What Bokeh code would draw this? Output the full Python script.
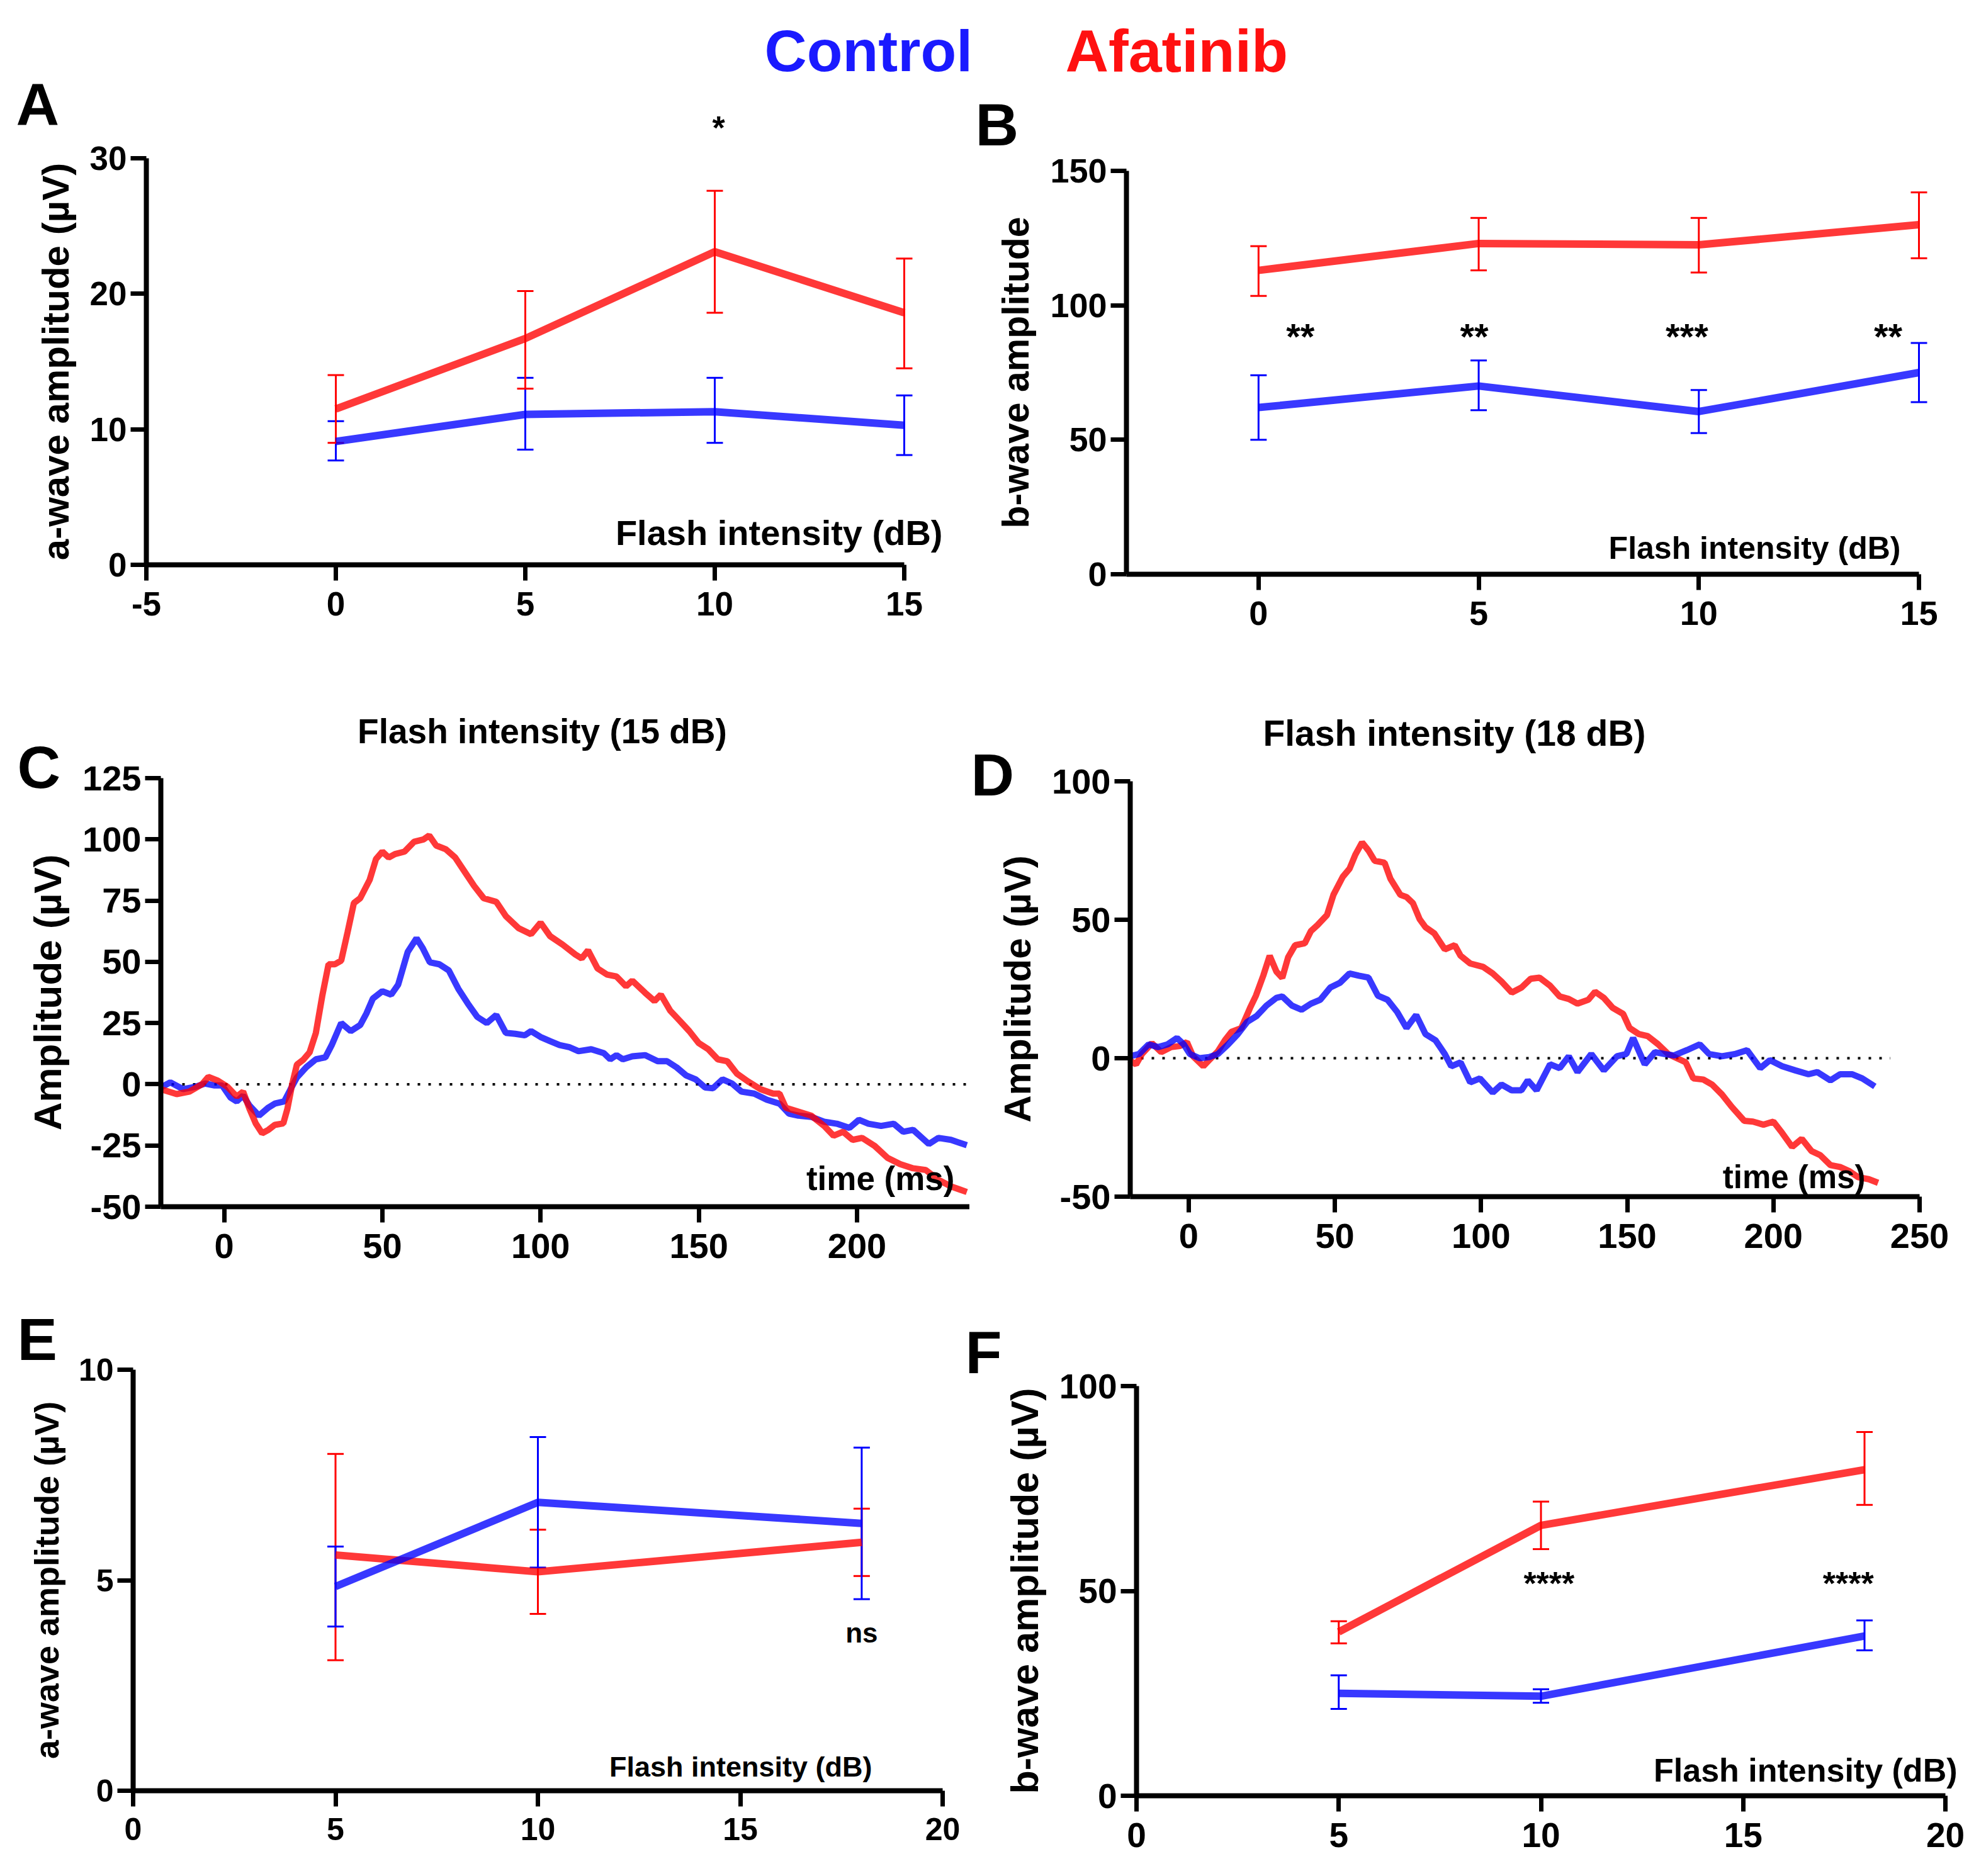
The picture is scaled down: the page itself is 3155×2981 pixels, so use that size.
from bokeh.plotting import figure
from bokeh.layouts import column, row
from bokeh.models import (Range1d, Label, FixedTicker, Whisker, TeeHead,
                          ColumnDataSource)
from bokeh.embed import file_html
from bokeh.resources import INLINE

# ---------------- data ----------------
# Panel A: a-wave amplitude (uV) vs flash intensity (dB)
a_x = [0, 5, 10, 15]
a_ctrl = [9.1, 11.1, 11.3, 10.3]
a_ctrl_lo = [7.7, 8.5, 9.0, 8.1]
a_ctrl_hi = [10.6, 13.8, 13.8, 12.5]
a_afat = [11.5, 16.7, 23.1, 18.6]
a_afat_lo = [9.0, 13.0, 18.6, 14.5]
a_afat_hi = [14.0, 20.2, 27.6, 22.6]
a_sig_x = [10.1]
a_sig = ["*"]

# Panel B: b-wave amplitude
b_x = [0, 5, 10, 15]
b_ctrl = [62.0, 70.0, 60.5, 75.0]
b_ctrl_lo = [50.0, 61.0, 52.5, 64.0]
b_ctrl_hi = [74.0, 79.5, 68.5, 86.0]
b_afat = [113.0, 123.0, 122.5, 130.0]
b_afat_lo = [103.5, 113.0, 112.2, 117.5]
b_afat_hi = [122.0, 132.5, 132.5, 142.0]
b_sig_x = [0.95, 4.9, 9.73, 14.3]
b_sig = ["**", "**", "***", "**"]

# Panel C: trace at 15 dB
c_t_afat = [-20, -15, -11, -7, -5, -2, 1, 4, 6, 8, 10, 12, 14, 16, 18.7, 20, 21.5, 23, 25, 27,
            29, 31, 33, 35, 37, 39, 41, 43, 46, 48, 50, 52, 54, 57, 60, 63, 64.8, 67, 70, 73,
            76, 79, 82, 86, 89, 93, 97, 100, 103, 107, 111, 113, 115, 118, 121, 124, 127, 129,
            133, 136, 138, 141, 144, 147, 150, 153, 156, 159, 162, 165.5, 169.5, 173.5, 175.5,
            177.5, 181.5, 185.5, 189.6, 192.6, 195.6, 198.6, 201.6, 205.6, 209.6, 213.6, 217.7,
            221.7, 225.7, 229.7, 234.7]
c_v_afat = [-2, -4, -3, 0, 3, 1.5, -1, -5, -3, -10, -16, -20, -18.6, -16.6, -16, -10, 0, 8, 10, 13,
            21, 36, 49, 49, 50.5, 62, 74, 76, 83.5, 92, 95, 92.6, 94, 95, 99, 100, 101.6, 97.5, 96,
            92.6, 86.8, 81, 76, 74.5, 68.7, 63.8, 61.3, 66, 60.5, 57, 53, 51.4, 54.7, 47.3, 44.8,
            44, 40, 42.3, 37.4, 34, 36.6, 30, 25.9, 21.7, 16.8, 14.3, 10.2, 9.4, 4.4, 1.2, -2,
            -3.8, -3.8, -9.6, -11.2, -12.8, -17, -21, -19.4, -22.7, -21.9, -25.2, -30, -32.6,
            -34.3, -35, -39, -41.7, -44]
c_t_ctrl = [-20, -17, -13, -9, -6, -3, -0.6, 2, 4, 6, 8, 11, 14, 16, 19, 21, 23, 26, 29, 32, 34,
            37, 40, 43, 45, 47, 50, 52.8, 55, 58, 60.8, 62.8, 65, 68, 71, 74, 77, 80, 83, 86, 89,
            92, 95, 97, 100, 103, 106, 109, 112, 116, 120, 122, 124, 126, 129, 133, 137, 140, 143,
            146, 149, 152, 154.5, 157.5, 160.5, 163.5, 167.5, 171.5, 175.5, 178.5, 181.5, 185.5,
            189.6, 193.6, 197.6, 200.6, 203.6, 207.6, 211.6, 214.6, 217.7, 222.7, 225.7, 229.7,
            234.7]
c_v_ctrl = [-1.3, 0.8, -2, -1, 0.3, -0.5, -0.5, -5.4, -7, -4.6, -8.7, -12.8, -9.5, -7.9, -7, -2,
            2.8, 7, 10.2, 11, 16, 25, 21.7, 24.2, 29, 35, 38, 36.6, 40.7, 54, 59.6, 55.5, 49.8, 49,
            46.5, 39, 33, 27.5, 25, 28.3, 21, 20.6, 20, 21.7, 19.3, 17.6, 16, 15.2, 13.5, 14.3,
            12.7, 10.2, 11.9, 10.2, 11.4, 11.9, 9.4, 9.4, 6.9, 3.6, 2, -1.3, -1.6, 2, 0.3, -3,
            -3.8, -6.3, -7.9, -12, -12.8, -13.3, -15.3, -16.1, -17.8, -14.5, -16.1, -17, -16.1,
            -19.4, -18.6, -24.4, -21.9, -22.7, -24.9]

# Panel D: trace at 18 dB
d_t_afat = [-20.3, -18, -16, -12.6, -9.4, -6, -3, -0.6, 1.5, 5, 7, 10, 12.4, 14.6, 18, 21, 23,
            25.5, 27.7, 30, 32, 34, 36.4, 39.7, 41.8, 44, 47.3, 49.5, 52.7, 55, 57, 59.3, 61.5,
            63.6, 67, 69, 72.4, 74.5, 76.7, 79, 81, 84, 87.6, 91, 93, 96.3, 100.7, 104, 107,
            110.5, 113.8, 117, 120, 123.6, 126.9, 130, 133, 136.7, 139, 142, 145, 148.6, 150.8,
            154, 157, 160.6, 164, 167, 170, 172.6, 176, 179, 182.4, 185.7, 190, 193, 196.6, 200,
            203, 206.4, 209.7, 213, 216, 219.5, 222.8, 226, 229, 232.6, 235.8]
d_v_afat = [-0.7, -2.2, 1.5, 5.4, 2.2, 4, 4.4, 5.8, 0.7, -2.9, -0.7, 2.5, 6.5, 9.5, 10.9, 18.2,
            22.6, 29.8, 37, 31.3, 29, 36.4, 40.8, 41.5, 45.9, 48, 51.7, 59, 65.5, 68.4, 73.5,
            77.9, 75, 71.3, 70.6, 64.8, 59, 58.2, 56, 50.2, 47.3, 45.1, 39.3, 40.8, 37, 34.2, 33,
            30.6, 27.7, 23.7, 25.5, 28.7, 29.1, 26.2, 22.3, 21.4, 19.7, 21.1, 24, 21.8, 18.2, 16,
            10.9, 8.7, 8, 5, 1.5, 0, -1.5, -7.3, -7.7, -9.5, -13.1, -17.5, -22.6, -22.9, -24,
            -22.9, -27, -32, -29.1, -33.5, -35, -38.6, -39.3, -40.8, -43, -43.7, -45]
d_t_ctrl = [-20, -17, -13.7, -10.5, -7.2, -4, -1.7, 0.4, 3.7, 7, 10, 13.5, 16.8, 20, 23.3, 26.6,
            30, 32, 35.3, 38.6, 41.8, 45, 48.4, 51.7, 55, 58.2, 61.5, 64.7, 68, 71.3, 74.5, 77.8,
            81, 84.4, 87.6, 89.8, 93, 96.3, 99.6, 104, 107, 110.5, 113.8, 116, 119, 123.6, 126.9,
            130, 133, 137.7, 142, 146.5, 149.7, 152, 156, 159.5, 162.8, 166, 170.4, 174.8, 178,
            182.4, 186.8, 191, 195.5, 198.8, 203, 207.5, 212, 215, 219.5, 222.8, 227, 230.4,
            234.7]
d_v_ctrl = [0.7, 1.5, 5, 4, 5, 7.3, 5, 1.5, 0, 0.4, 1.5, 5, 8.7, 13.1, 15.3, 19, 21.8, 22.3, 19,
            17.5, 19.7, 21.1, 25.5, 27.2, 30.6, 29.8, 29.1, 22.6, 21.1, 16.7, 10.9, 15.6, 8.7,
            6.5, 1.5, -2.9, -1.5, -8.7, -7.3, -12.4, -9.5, -11.6, -11.6, -8, -11.6, -2.2, -3.6,
            0.7, -5, 1.5, -4.4, 0.7, 1.5, 7.3, -2.2, 2.2, 1.5, 1, 2.9, 5, 1.5, 0.7, 1.5, 2.9,
            -3.6, -0.7, -2.9, -4.4, -5.8, -5, -8, -5.8, -5.8, -7.3, -10.2]

# Panel E: a-wave amplitude
e_x = [5, 10, 18]
e_ctrl = [4.85, 6.85, 6.35]
e_ctrl_lo = [3.9, 5.3, 4.55]
e_ctrl_hi = [5.8, 8.4, 8.15]
e_afat = [5.6, 5.2, 5.9]
e_afat_lo = [3.1, 4.2, 5.1]
e_afat_hi = [8.0, 6.2, 6.7]
e_sig_x = [18]
e_sig = ["ns"]

# Panel F: b-wave amplitude
f_x = [5, 10, 18]
f_ctrl = [25.0, 24.3, 39.0]
f_ctrl_lo = [21.2, 22.7, 35.5]
f_ctrl_hi = [29.4, 26.0, 42.8]
f_afat = [40.0, 66.0, 79.6]
f_afat_lo = [37.2, 60.2, 71.0]
f_afat_hi = [42.6, 71.8, 88.8]
f_sig_x = [10.2, 17.6]
f_sig = ["****", "****"]

legend_labels = ["Control", "Afatinib"]

# ---------------- style ----------------
FONT = "Liberation Sans"
RED = "#ff0000"
BLUE = "#0000ff"
TXT_BLUE = "#1a1aff"
TXT_RED = "#ff1010"

# page pixel geometry (reference image coordinates)
# fig: canvas box x0,x1,y0,y1 ; px: axis pixel positions left,right,top,bottom ;
# dv: data values at those pixel positions
PANELS = {
    "A": dict(fig=(8, 1554, 8, 1048), px=(240, 1444, 259, 905), dv=(-5, 15, 30, 0)),
    "B": dict(fig=(1554, 3147, 8, 1048), px=(1797, 3056, 279, 920), dv=(-3, 15, 150, 0)),
    "C": dict(fig=(8, 1548, 1048, 2048), px=(263, 1555, 1244, 1925), dv=(-20, 237, 125, -50)),
    "D": dict(fig=(1548, 3147, 1048, 2048), px=(1803, 3057, 1249, 1909), dv=(-20, 250, 100, -50)),
    "E": dict(fig=(8, 1536, 2048, 2973), px=(219, 1505, 2184, 2853), dv=(0, 20, 10, 0)),
    "F": dict(fig=(1536, 3147, 2048, 2973), px=(1813, 3098, 2210, 2861), dv=(0, 20, 100, 0)),
}


def to_data(key, X, Y):
    g = PANELS[key]
    pl, pr, pt, pb = g["px"]
    xl, xr, yt, yb = g["dv"]
    x = xl + (X - pl) * (xr - xl) / (pr - pl)
    y = yb + (pb - Y) * (yt - yb) / (pb - pt)
    return x, y


def make_fig(key, xticks, yticks, xbounds, ybounds, ylabel, tick_size, ylabel_size):
    g = PANELS[key]
    fx0, fx1, fy0, fy1 = g["fig"]
    x0, y1 = to_data(key, fx0, fy0)
    x1, y0 = to_data(key, fx1, fy1)
    p = figure(width=fx1 - fx0, height=fy1 - fy0, output_backend="svg",
               toolbar_location=None, tools="",
               x_range=Range1d(x0, x1), y_range=Range1d(y0, y1),
               min_border_left=0, min_border_right=0, min_border_top=0, min_border_bottom=0)
    p.outline_line_color = None
    p.grid.visible = False
    p.background_fill_color = "white"
    p.border_fill_color = "white"
    p.xaxis.fixed_location = ybounds[0]
    p.yaxis.fixed_location = xbounds[0]
    for ax, ticks, bounds in ((p.xaxis[0], xticks, xbounds), (p.yaxis[0], yticks, ybounds)):
        ax.ticker = FixedTicker(ticks=ticks)
        ax.bounds = bounds
        ax.axis_line_width = 8
        ax.axis_line_color = "black"
        ax.major_tick_line_width = 7
        ax.major_tick_out = 25
        ax.major_tick_in = 0
        ax.minor_tick_line_color = None
        ax.major_label_text_font = FONT
        ax.major_label_text_font_style = "bold"
        ax.major_label_text_font_size = f"{tick_size}px"
        ax.major_label_text_color = "black"
        ax.major_label_overrides = {t: (f"-{abs(t)}" if t < 0 else str(t)) for t in ticks}
    p.xaxis.major_label_standoff = 18
    p.yaxis.major_label_standoff = 6
    p.yaxis.axis_label = ylabel
    p.yaxis.axis_label_text_font = FONT
    p.yaxis.axis_label_text_font_style = "bold"
    p.yaxis.axis_label_text_font_size = f"{ylabel_size}px"
    p.yaxis.axis_label_text_color = "black"
    p.yaxis.axis_label_standoff = 18
    return p


def add_text(p, key, text, X, Y, size, align="left", color="black"):
    x, y = to_data(key, X, Y)
    p.add_layout(Label(x=x, y=y, text=text, text_font=FONT, text_font_style="bold",
                       text_font_size=f"{size}px", text_align=align,
                       text_baseline="alphabetic", text_color=color))


def add_sig(p, key, xs, labels, Y, size):
    _, y = to_data(key, 0, Y)
    for x, s in zip(xs, labels):
        p.add_layout(Label(x=x, y=y, text=s, text_font=FONT, text_font_style="bold",
                           text_font_size=f"{size}px", text_align="center",
                           text_baseline="alphabetic", text_color="black"))


def add_series(p, x, mean, lo, hi, color):
    src = ColumnDataSource(dict(x=x, m=mean, lo=lo, hi=hi))
    p.line("x", "m", source=src, line_color=color, line_alpha=0.78, line_width=12)
    w = Whisker(base="x", upper="hi", lower="lo", source=src, dimension="height",
                line_color=color, line_width=3,
                upper_head=TeeHead(size=26, line_color=color, line_width=3),
                lower_head=TeeHead(size=26, line_color=color, line_width=3))
    p.add_layout(w)


def zero_line(p, xb):
    p.segment(x0=[xb[0]], y0=[0], x1=[xb[1]], y1=[0], line_color="black", line_width=4,
              line_dash="4 13")


# ---------------- Panel A ----------------
pA = make_fig("A", [-5, 0, 5, 10, 15], [0, 10, 20, 30], (-5, 15), (0, 30),
              "a-wave amplitude (µV)", 53, 60)
add_series(pA, a_x, a_ctrl, a_ctrl_lo, a_ctrl_hi, BLUE)
add_series(pA, a_x, a_afat, a_afat_lo, a_afat_hi, RED)
add_sig(pA, "A", a_sig_x, a_sig, 210, 52)
add_text(pA, "A", "Flash intensity (dB)", 1505, 854, 56, align="right")
add_text(pA, "A", "A", 33, 173, 95)
add_text(pA, "A", legend_labels[0], 1222, 88, 93, color=TXT_BLUE)

# ---------------- Panel B ----------------
pB = make_fig("B", [0, 5, 10, 15], [0, 50, 100, 150], (-3, 15), (0, 150),
              "b-wave amplitude", 54, 59)
add_series(pB, b_x, b_ctrl, b_ctrl_lo, b_ctrl_hi, BLUE)
add_series(pB, b_x, b_afat, b_afat_lo, b_afat_hi, RED)
add_sig(pB, "B", b_sig_x, b_sig, 542, 58)
add_text(pB, "B", "Flash intensity (dB)", 3027, 878, 50, align="right")
add_text(pB, "B", "B", 1557, 205, 95)
add_text(pB, "B", legend_labels[1], 1700, 88, 95, color=TXT_RED)

# ---------------- Panel C ----------------
c_xb = (-20, 237)
pC = make_fig("C", [0, 50, 100, 150, 200], [-50, -25, 0, 25, 50, 75, 100, 125],
              c_xb, (-50, 125), "Amplitude (µV)", 56, 62)
zero_line(pC, c_xb)
pC.line(c_t_ctrl, c_v_ctrl, line_color=BLUE, line_alpha=0.78, line_width=10)
pC.line(c_t_afat, c_v_afat, line_color=RED, line_alpha=0.78, line_width=10)
add_text(pC, "C", "Flash intensity (15 dB)", 869, 1169, 55, align="center")
add_text(pC, "C", "time (ms)", 1524, 1880, 53, align="right")
add_text(pC, "C", "C", 35, 1226, 95)

# ---------------- Panel D ----------------
d_xb = (-20, 250)
pD = make_fig("D", [0, 50, 100, 150, 200, 250], [-50, 0, 50, 100],
              d_xb, (-50, 100), "Amplitude (µV)", 56, 60)
zero_line(pD, (-20, 240))
pD.line(d_t_afat, d_v_afat, line_color=RED, line_alpha=0.78, line_width=10)
pD.line(d_t_ctrl, d_v_ctrl, line_color=BLUE, line_alpha=0.78, line_width=10)
add_text(pD, "D", "Flash intensity (18 dB)", 2318, 1172, 57, align="center")
add_text(pD, "D", "time (ms)", 2971, 1878, 51, align="right")
add_text(pD, "D", "D", 1550, 1238, 95)

# ---------------- Panel E ----------------
pE = make_fig("E", [0, 5, 10, 15, 20], [0, 5, 10], (0, 20), (0, 10),
              "a-wave amplitude (µV)", 50, 54)
add_series(pE, e_x, e_afat, e_afat_lo, e_afat_hi, RED)
add_series(pE, e_x, e_ctrl, e_ctrl_lo, e_ctrl_hi, BLUE)
add_sig(pE, "E", e_sig_x, e_sig, 2602, 44)
add_text(pE, "E", "Flash intensity (dB)", 1393, 2815, 45, align="right")
add_text(pE, "E", "E", 35, 2135, 95)

# ---------------- Panel F ----------------
pF = make_fig("F", [0, 5, 10, 15, 20], [0, 50, 100], (0, 20), (0, 100),
              "b-wave amplitude (µV)", 55, 61)
add_series(pF, f_x, f_ctrl, f_ctrl_lo, f_ctrl_hi, BLUE)
add_series(pF, f_x, f_afat, f_afat_lo, f_afat_hi, RED)
add_sig(pF, "F", f_sig_x, f_sig, 2523, 52)
add_text(pF, "F", "Flash intensity (dB)", 3117, 2820, 52, align="right")
add_text(pF, "F", "F", 1541, 2156, 95)

layout = column(row(pA, pB, spacing=0), row(pC, pD, spacing=0), row(pE, pF, spacing=0),
                spacing=0)

open("out.html", "w").write(file_html(layout, INLINE))
